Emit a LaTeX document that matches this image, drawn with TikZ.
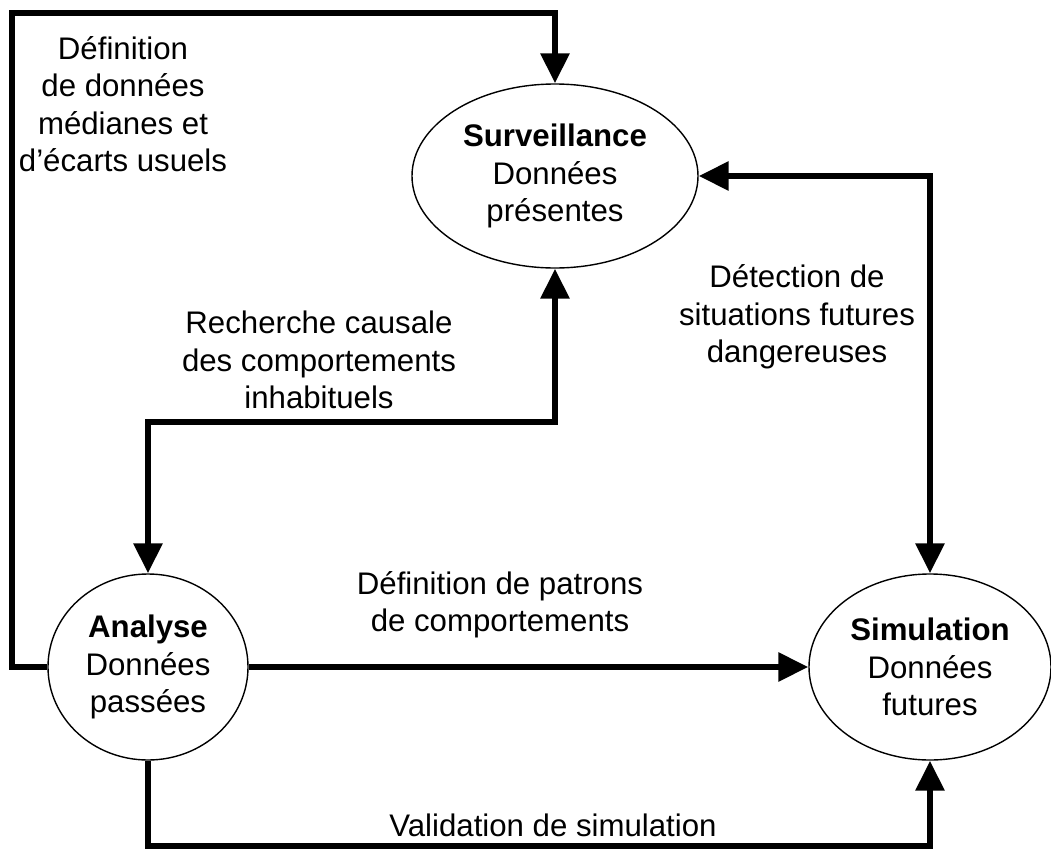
\documentclass[tikz,border=0pt]{standalone}
\usepackage{fontspec}
\setmainfont{Liberation Sans}
\usetikzlibrary{shapes.geometric, arrows.meta}

\tikzset{
    bulle/.style={ellipse, draw, line width=0.7pt, inner sep=0pt, align=center},
    lien/.style={line width=3pt, -{Triangle[length=15pt, width=14pt]}},
    lienbi/.style={line width=3pt, {Triangle[length=15pt, width=14pt]}-{Triangle[length=15pt, width=14pt]}},
    texte/.style={align=center}
}

\begin{document}
\begin{tikzpicture}[x=0.5pt, y=-0.5pt, font=\fontsize{15.6}{18.7}\selectfont]
    \useasboundingbox (0,0) rectangle (1051,852);

    % Bulles
    \node[bulle, minimum width=143pt, minimum height=92pt] (surv) at (555,176)
        {\textbf{Surveillance}\\Données\\présentes};
    \node[bulle, minimum width=100pt, minimum height=93pt] (ana) at (148,667)
        {\textbf{Analyse}\\Données\\passées};
    \node[bulle, minimum width=121pt, minimum height=93pt] (sim) at (930,667)
        {\textbf{Simulation}\\Données\\futures};

    % Points de passage
    \coordinate (hg) at (12,13);
    \coordinate (rc) at (555,422);
    \coordinate (vb) at (540,846);

    % Liens
    \draw[lien] (ana.west) -| (hg) -| (surv.north);
    \draw[lienbi] (surv.south) -- (rc) -| (ana.north);
    \draw[lienbi] (surv.east) -| (sim.north);
    \draw[lien] (ana.east) -- (sim.west);
    \draw[lien] (ana.south) |- (vb) -| (sim.south);

    % Etiquettes
    \node[texte] (t1) at (123,104) {Définition\\de données\\médianes et\\d’écarts usuels};
    \node[texte] (t2) at (319,360) {Recherche causale\\des comportements\\inhabituels};
    \node[texte] (t3) at (797,317) {Détection de\\situations futures\\dangereuses};
    \node[texte] (t4) at (500,605) {Définition de patrons\\de comportements};
    \node[texte] (t5) at (553,825) {Validation de simulation};
\end{tikzpicture}
\end{document}
